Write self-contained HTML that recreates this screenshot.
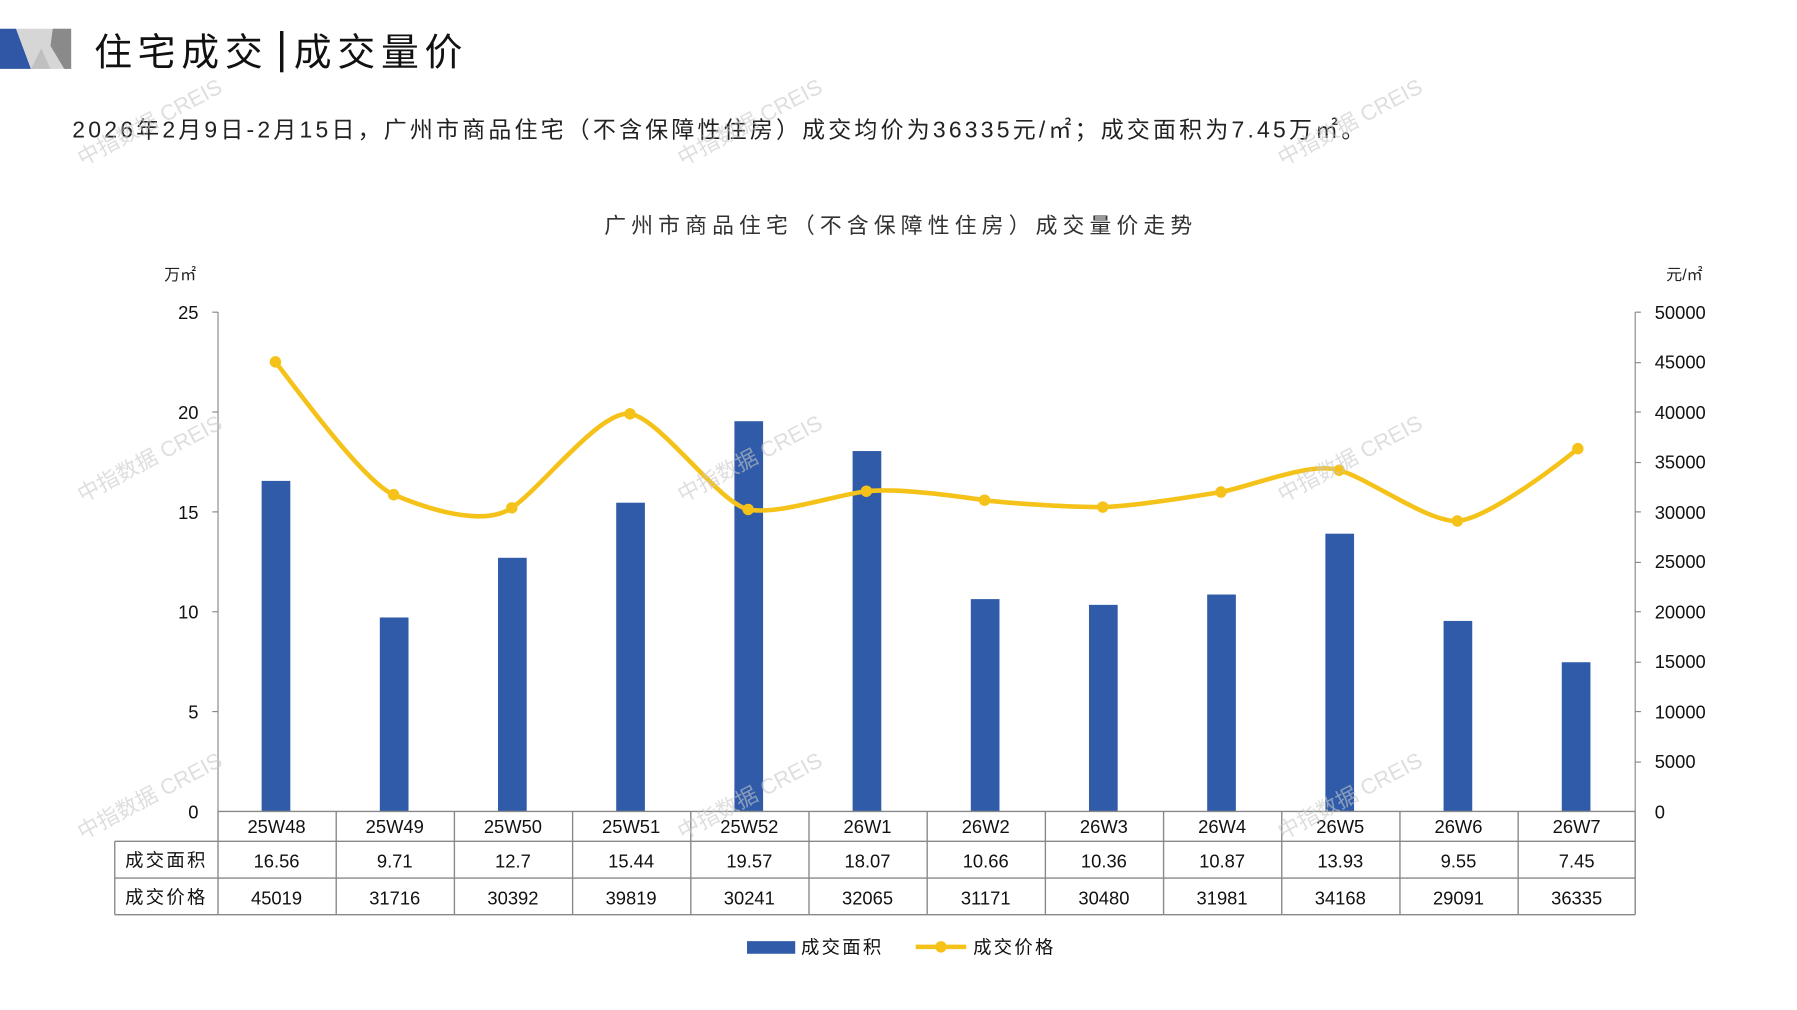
<!DOCTYPE html>
<html><head><meta charset="utf-8"><style>html,body{margin:0;padding:0;background:#fff;}svg{display:block}text{font-family:"Liberation Sans","Noto Sans CJK SC",sans-serif;}</style></head>
<body>
<svg width="1797" height="1010" viewBox="0 0 1566 880" preserveAspectRatio="none" xmlns="http://www.w3.org/2000/svg">
<polygon points="0,25 14,25 27,60 0,60" fill="#2f57a6"/>
<polygon points="14,25 62,25 62,60 27,60" fill="#d6d6d6"/>
<polygon points="46,25 62,25 62,60 56,60 44,40" fill="#8a8a8a"/>
<polygon points="27,60 36,42 44,60" fill="#c0c0c0"/>
<text x="82" y="57" font-size="33" fill="#111" letter-spacing="5" font-family="Noto Serif CJK SC,serif">住宅成交</text>
<rect x="244" y="27" width="3" height="36" fill="#111"/>
<text x="256" y="57" font-size="33" fill="#111" letter-spacing="5" font-family="Noto Serif CJK SC,serif">成交量价</text>
<text x="63" y="120" font-size="20" fill="#222" letter-spacing="2.8">2026年2月9日-2月15日，广州市商品住宅（不含保障性住房）成交均价为36335元/㎡；成交面积为7.45万㎡。</text>
<text x="785" y="203" font-size="19" fill="#333" text-anchor="middle" letter-spacing="4.5">广州市商品住宅（不含保障性住房）成交量价走势</text>
<text x="143" y="244" font-size="14" fill="#222">万㎡</text>
<text x="1452" y="244" font-size="14" fill="#222">元/㎡</text>
<g font-size="16" fill="#111" text-anchor="end">
<text x="173" y="278">25</text><text x="173" y="365">20</text><text x="173" y="452">15</text><text x="173" y="539">10</text><text x="173" y="626">5</text><text x="173" y="713">0</text>
</g>
<g font-size="16" fill="#111">
<text x="1442" y="278">50000</text><text x="1442" y="321">45000</text><text x="1442" y="365">40000</text><text x="1442" y="408">35000</text><text x="1442" y="452">30000</text><text x="1442" y="495">25000</text><text x="1442" y="539">20000</text><text x="1442" y="582">15000</text><text x="1442" y="626">10000</text><text x="1442" y="669">5000</text><text x="1442" y="713">0</text>
</g>
<g stroke="#888" stroke-width="1" fill="none">
<line x1="190" y1="272" x2="190" y2="707"/><line x1="1425" y1="272" x2="1425" y2="707"/>
<line x1="185" y1="272" x2="190" y2="272"/><line x1="1425" y1="272" x2="1430" y2="272"/>
<line x1="185" y1="359" x2="190" y2="359"/><line x1="185" y1="446" x2="190" y2="446"/><line x1="185" y1="533" x2="190" y2="533"/><line x1="185" y1="620" x2="190" y2="620"/>
<line x1="1425" y1="316" x2="1430" y2="316"/><line x1="1425" y1="359" x2="1430" y2="359"/><line x1="1425" y1="403" x2="1430" y2="403"/><line x1="1425" y1="446" x2="1430" y2="446"/><line x1="1425" y1="490" x2="1430" y2="490"/><line x1="1425" y1="533" x2="1430" y2="533"/><line x1="1425" y1="577" x2="1430" y2="577"/><line x1="1425" y1="620" x2="1430" y2="620"/><line x1="1425" y1="664" x2="1430" y2="664"/>
</g>
<g fill="#2f5ba8">
<rect x="228" y="419" width="25" height="288"/>
<rect x="331" y="538" width="25" height="169"/>
<rect x="434" y="486" width="25" height="221"/>
<rect x="537" y="438" width="25" height="269"/>
<rect x="640" y="367" width="25" height="340"/>
<rect x="743" y="393" width="25" height="314"/>
<rect x="846" y="522" width="25" height="185"/>
<rect x="949" y="527" width="25" height="180"/>
<rect x="1052" y="518" width="25" height="189"/>
<rect x="1155" y="465" width="25" height="242"/>
<rect x="1258" y="541" width="25" height="166"/>
<rect x="1361" y="577" width="25" height="130"/>
</g>
<path d="M240,315.3 C257,337 317,420 343,431.0 C369,442 420,460 446,442.5 C472,425 523,357 549,360.6 C575,364 626,438 652,443.9 C678,449 729,431 755,428.0 C781,425 832,432 858,435.8 C884,439 935,442 961,441.8 C987,441 1038,433 1064,428.7 C1090,424 1141,402 1167,409.7 C1193,417 1244,455 1270,453.9 C1296,452 1357,406 1375,390.9" fill="none" stroke="#f5c21a" stroke-width="4"/>
<g fill="#f5c21a">
<circle cx="240" cy="315.3" r="5"/><circle cx="343" cy="431" r="5"/><circle cx="446" cy="442.5" r="5"/><circle cx="549" cy="360.6" r="5"/><circle cx="652" cy="443.9" r="5"/><circle cx="755" cy="428" r="5"/><circle cx="858" cy="435.8" r="5"/><circle cx="961" cy="441.8" r="5"/><circle cx="1064" cy="428.7" r="5"/><circle cx="1167" cy="409.7" r="5"/><circle cx="1270" cy="453.9" r="5"/><circle cx="1375" cy="390.9" r="5"/>
</g>
<g stroke="#888" stroke-width="1.2" fill="none">
<line x1="190" y1="707" x2="1425" y2="707"/>
<line x1="100" y1="733" x2="1425" y2="733"/>
<line x1="100" y1="765" x2="1425" y2="765"/>
<line x1="100" y1="797" x2="1425" y2="797"/>
<line x1="100" y1="733" x2="100" y2="797"/>
<line x1="190" y1="707" x2="190" y2="797"/>
<line x1="293" y1="707" x2="293" y2="797"/><line x1="396" y1="707" x2="396" y2="797"/><line x1="499" y1="707" x2="499" y2="797"/><line x1="602" y1="707" x2="602" y2="797"/><line x1="705" y1="707" x2="705" y2="797"/><line x1="808" y1="707" x2="808" y2="797"/><line x1="911" y1="707" x2="911" y2="797"/><line x1="1014" y1="707" x2="1014" y2="797"/><line x1="1117" y1="707" x2="1117" y2="797"/><line x1="1220" y1="707" x2="1220" y2="797"/><line x1="1323" y1="707" x2="1323" y2="797"/><line x1="1425" y1="707" x2="1425" y2="797"/>
</g>
<g font-size="16" fill="#111" text-anchor="middle">
<text x="241" y="726">25W48</text><text x="344" y="726">25W49</text><text x="447" y="726">25W50</text><text x="550" y="726">25W51</text><text x="653" y="726">25W52</text><text x="756" y="726">26W1</text><text x="859" y="726">26W2</text><text x="962" y="726">26W3</text><text x="1065" y="726">26W4</text><text x="1168" y="726">26W5</text><text x="1271" y="726">26W6</text><text x="1374" y="726">26W7</text>
<text x="145" y="755" font-size="16" letter-spacing="2">成交面积</text>
<text x="241" y="756">16.56</text><text x="344" y="756">9.71</text><text x="447" y="756">12.7</text><text x="550" y="756">15.44</text><text x="653" y="756">19.57</text><text x="756" y="756">18.07</text><text x="859" y="756">10.66</text><text x="962" y="756">10.36</text><text x="1065" y="756">10.87</text><text x="1168" y="756">13.93</text><text x="1271" y="756">9.55</text><text x="1374" y="756">7.45</text>
<text x="145" y="787" font-size="16" letter-spacing="2">成交价格</text>
<text x="241" y="788">45019</text><text x="344" y="788">31716</text><text x="447" y="788">30392</text><text x="550" y="788">39819</text><text x="653" y="788">30241</text><text x="756" y="788">32065</text><text x="859" y="788">31171</text><text x="962" y="788">30480</text><text x="1065" y="788">31981</text><text x="1168" y="788">34168</text><text x="1271" y="788">29091</text><text x="1374" y="788">36335</text>
</g>
<rect x="651" y="820" width="42" height="11" fill="#2f5ba8"/>
<text x="698" y="831" font-size="16" fill="#111" letter-spacing="2">成交面积</text>
<line x1="798" y1="825" x2="842" y2="825" stroke="#f5c21a" stroke-width="4"/>
<circle cx="820" cy="825" r="5" fill="#f5c21a"/>
<text x="848" y="831" font-size="16" fill="#111" letter-spacing="2">成交价格</text>
<g font-size="19" fill="#c8c8c8" opacity="0.6">
<text transform="translate(72,145) rotate(-28)">中指数据 CREIS</text>
<text transform="translate(595,145) rotate(-28)">中指数据 CREIS</text>
<text transform="translate(1118,145) rotate(-28)">中指数据 CREIS</text>
<text transform="translate(72,438) rotate(-28)">中指数据 CREIS</text>
<text transform="translate(595,438) rotate(-28)">中指数据 CREIS</text>
<text transform="translate(1118,438) rotate(-28)">中指数据 CREIS</text>
<text transform="translate(72,732) rotate(-28)">中指数据 CREIS</text>
<text transform="translate(595,732) rotate(-28)">中指数据 CREIS</text>
<text transform="translate(1118,732) rotate(-28)">中指数据 CREIS</text>
</g>
</svg>
</body></html>
